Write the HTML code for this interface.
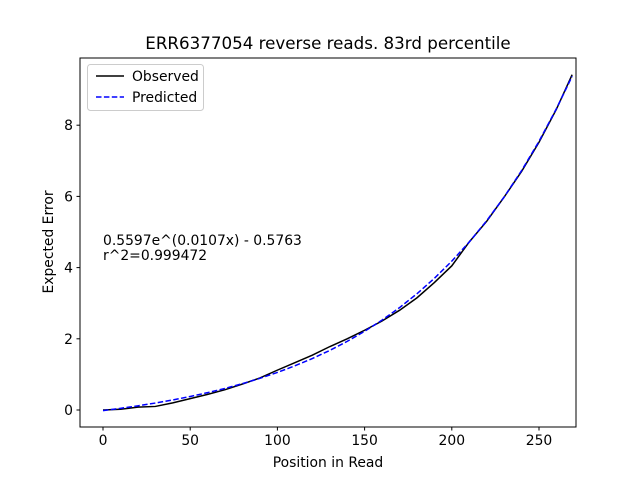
<!DOCTYPE html>
<html><head><meta charset="utf-8"><style>
body{margin:0;background:#fff;}
svg text{font-family:"DejaVu Sans","Liberation Sans",sans-serif;}
</style></head><body>
<svg width="640" height="480" viewBox="0 0 640 480">
<rect width="640" height="480" fill="#fff"/>
<text x="328" y="49" font-size="16.7" text-anchor="middle">ERR6377054 reverse reads. 83rd percentile</text>
<g id="axes"></g>
<rect x="80" y="58" width="496" height="369" fill="none" stroke="#000" stroke-width="1"/>
<text x="328" y="467" font-size="13.9" text-anchor="middle">Position in Read</text>
<text transform="translate(53,242) rotate(-90)" font-size="13.9" text-anchor="middle">Expected Error</text>
<text x="103" y="245" font-size="13.9">0.5597e^(0.0107x) - 0.5763</text>
<text x="103" y="260" font-size="13.9">r^2=0.999472</text>
<g>
<rect x="87.5" y="64.5" width="116" height="46" rx="3" fill="#fff" fill-opacity="0.8" stroke="#ccc"/>
<line x1="96" y1="76" x2="124" y2="76" stroke="#000" stroke-width="1.5"/>
<text x="132" y="81" font-size="13.9">Observed</text>
<line x1="96" y1="97" x2="124" y2="97" stroke="#00f" stroke-width="1.5" stroke-dasharray="5.5,2.4"/>
<text x="132" y="102" font-size="13.9">Predicted</text>
</g>
</svg>
<script>
const xs=[0,10,20,30,40,50,60,70,80,90,100,110,120,130,140,150,160,170,180,190,200,210,220,230,240,250,260,269];
const observed=[0,0.02,0.08,0.1,0.2,0.32,0.44,0.57,0.73,0.9,1.12,1.33,1.54,1.78,2.0,2.24,2.5,2.8,3.15,3.58,4.05,4.72,5.3,5.98,6.7,7.52,8.45,9.42];
const predicted=[-0.017,0.047,0.117,0.195,0.282,0.379,0.487,0.607,0.741,0.89,1.056,1.24,1.445,1.673,1.927,2.21,2.525,2.875,3.265,3.699,4.181,4.719,5.317,5.982,6.723,7.547,8.465,9.374];
const xTicks=[0,50,100,150,200,250];
const yTicks=[0,2,4,6,8];
const X=v=>103+v*1.744, Y=v=>410-v*35.6;
const ns="http://www.w3.org/2000/svg", g=document.getElementById('axes');
function mk(t,a){const e=document.createElementNS(ns,t);for(const k in a)e.setAttribute(k,a[k]);g.appendChild(e);return e;}
xTicks.forEach(v=>{
 const l=mk('line',{x1:X(v),x2:X(v),y1:427,y2:430.5,stroke:'#000'});
 
 
 const t=mk('text',{x:X(v),y:445,'font-size':13.9,'text-anchor':'middle'});t.textContent=v;
 
 
});
yTicks.forEach(v=>{
 const l=mk('line',{x1:76.5,x2:80,y1:Y(v),y2:Y(v),stroke:'#000'});
 
 
 const t=mk('text',{x:73,y:Y(v)+5,'font-size':13.9,'text-anchor':'end'});t.textContent=v;
 
 
});
const o=mk('polyline',{points:xs.map((x,i)=>X(x)+','+Y(observed[i])).join(' '),fill:'none',stroke:'#000','stroke-width':1.5});


const p=mk('polyline',{points:xs.map((x,i)=>X(x)+','+Y(predicted[i])).join(' '),fill:'none',stroke:'#00f','stroke-width':1.5,'stroke-dasharray':'5.5,2.4'});


</script>
</body></html>
